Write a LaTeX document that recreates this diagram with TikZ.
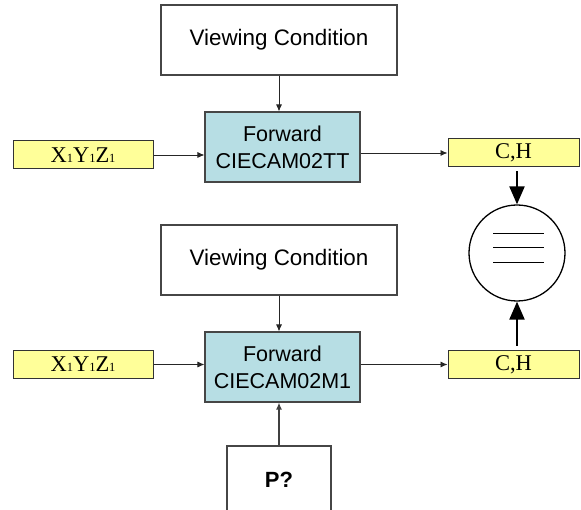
\documentclass[tikz,border=0pt]{standalone}
\usepackage{fontspec}
\setmainfont{Liberation Serif}
\newfontfamily\arial{Liberation Sans}
\usetikzlibrary{arrows.meta,calc}

\definecolor{boxline}{RGB}{70,70,70}
\definecolor{pale}{RGB}{255,255,153}
\definecolor{teal}{RGB}{183,222,228}

\tikzset{
  plainbox/.style={draw=boxline, line width=1.1pt, fill=white, inner sep=0pt,
    font=\arial\fontsize{22.4}{25}\selectfont, align=center},
  modelbox/.style={plainbox, fill=teal, minimum width=155pt, minimum height=70pt,
    font=\arial\fontsize{21.5}{25}\selectfont},
  condbox/.style={plainbox, minimum width=236pt, minimum height=70pt},
  databox/.style={draw=black!80, line width=1pt, fill=pale, inner sep=0pt,
    minimum height=28pt, font=\fontsize{22.5}{24}\selectfont},
  thin/.style={-{Latex[length=7pt,width=6pt]}, line width=0.8pt, black!85},
  thick/.style={-{Triangle[length=18pt,width=15pt]}, line width=2.2pt},
}

\newcommand{\xyzlabel}{X{\fontsize{12.5}{12}\selectfont 1}Y{\fontsize{12.5}{12}\selectfont 1}Z{\fontsize{12.5}{12}\selectfont 1}}

\begin{document}
\begin{tikzpicture}[x=1pt,y=-1pt]
  \useasboundingbox (0,0) rectangle (581,510);

  % upper chain
  \node[condbox] (vc1) at (279,40) {Viewing Condition};
  \node[modelbox] (fw1) at (282.5,147) {Forward\\[2pt]CIECAM02TT};
  \node[databox, minimum width=140pt] (xyz1) at (83,155) {\xyzlabel};
  \node[databox, minimum width=131pt] (ch1) at (513.5,153) {C,H};

  % comparison circle
  \node[draw, line width=1.3pt, circle, minimum size=96pt, inner sep=0pt] (cmp) at (517,253) {};
  \foreach \dy in {-20,-6,9}
    \draw[line width=0.8pt] ($(cmp.center)+(-24,\dy)$) -- ($(cmp.center)+(27,\dy)$);

  % lower chain
  \node[condbox] (vc2) at (279,260) {Viewing Condition};
  \node[modelbox] (fw2) at (282.5,367) {Forward\\[2pt]CIECAM02M1};
  \node[databox, minimum width=140pt] (xyz2) at (83,364.5) {\xyzlabel};
  \node[databox, minimum width=131pt] (ch2) at (513.5,364.5) {C,H};
  \node[plainbox, minimum width=104pt, minimum height=68pt,
        font=\arial\bfseries\fontsize{22}{25}\selectfont] (p) at (279,480) {P?};

  % connectors
  \draw[thin] (vc1.south) -- (vc1.south |- fw1.north);
  \draw[thin] (xyz1.east) -- (xyz1.east -| fw1.west);
  \draw[thin] (ch1.west -| fw1.east) -- (ch1.west);
  \draw[thin] (vc2.south) -- (vc2.south |- fw2.north);
  \draw[thin] (xyz2.east) -- (xyz2.east -| fw2.west);
  \draw[thin] (ch2.west -| fw2.east) -- (ch2.west);
  \draw[thin, line width=1.3pt, black!75] (p.north) -- (p.north |- fw2.south);

  \draw[thick, shorten <=4pt] (cmp.north |- ch1.south) -- (cmp.north);
  \draw[thick, shorten <=4pt] (cmp.south |- ch2.north) -- (cmp.south);
\end{tikzpicture}
\end{document}
